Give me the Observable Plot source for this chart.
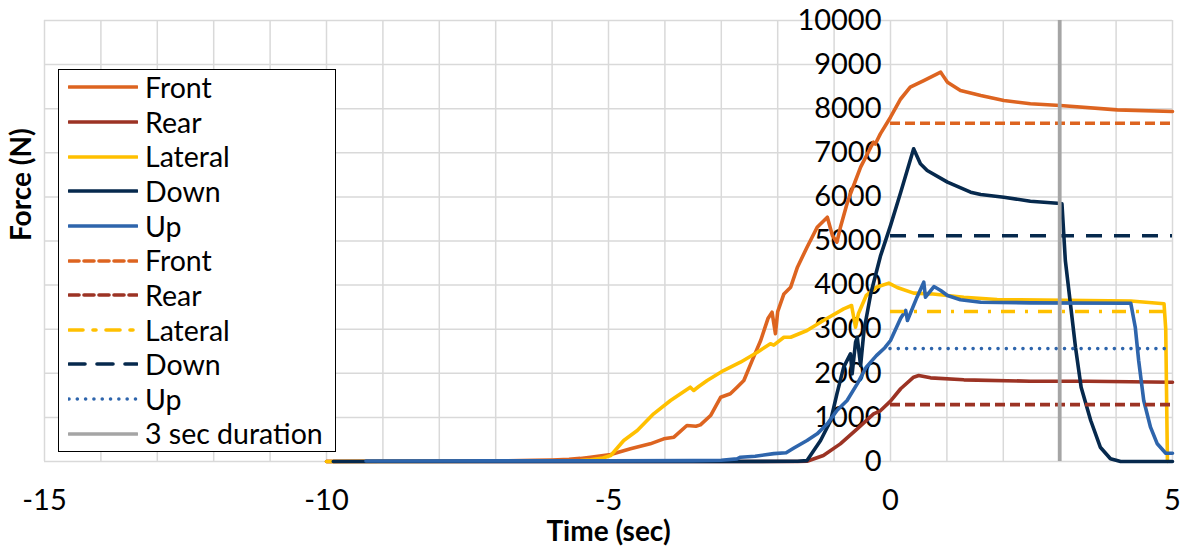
<!DOCTYPE html>
<html>
<head>
<meta charset="utf-8">
<script src="https://cdn.jsdelivr.net/npm/d3@7"></script>
<script src="https://cdn.jsdelivr.net/npm/@observablehq/plot@0.6"></script>
<style>
  html, body { margin: 0; padding: 0; background: #fff; }
  #wrap { position: relative; width: 1184px; height: 550px; font-family: Lato, "Noto Sans", sans-serif; }
  #legend { position: absolute; left: 58px; top: 69px; width: 276px; height: 381px; border: 1.5px solid #000; background: #fff; box-sizing: content-box; }
  .row { height: 34.65px; display: flex; align-items: center; padding-left: 9px; }
  .row svg { width: 70px; height: 10px; flex: none; }
  .row span { margin-left: 7px; font-size: 28.5px; color: #000; line-height: 1; white-space: nowrap; }
</style>
</head>
<body>
<div id="wrap"></div>
<script>
// ---- data ----
const xTicks = [-15, -10, -5, 0, 5];
const yTicks = [0, 1000, 2000, 3000, 4000, 5000, 6000, 7000, 8000, 9000, 10000];

const front = [[-10,0],[-9,5],[-8,10],[-7,15],[-6.3,25],[-6,35],[-5.7,50],[-5.5,70],[-5.32,98],[-4.96,159],[-4.61,287],[-4.26,400],[-4.02,514],[-3.84,552],[-3.61,816],[-3.45,800],[-3.37,830],[-3.19,1043],[-3.01,1458],[-2.84,1535],[-2.72,1685],[-2.6,1837],[-2.45,2300],[-2.3,2750],[-2.17,3250],[-2.1,3386],[-2.04,2900],[-2.0,3400],[-1.89,3800],[-1.77,3953],[-1.65,4406],[-1.48,4859],[-1.3,5313],[-1.12,5540],[-1.03,5125],[-0.95,4973],[-0.89,5300],[-0.77,5850],[-0.71,6070],[-0.62,6372],[-0.53,6674],[-0.35,7127],[-0.3,7240],[-0.27,7200],[-0.18,7430],[0,7807],[0.18,8220],[0.35,8488],[0.59,8639],[0.89,8828],[0.93,8750],[1.01,8601],[1.24,8413],[1.6,8299],[2.01,8186],[2.48,8111],[3.01,8073],[4.02,7974],[5,7937]];
const rear = [[-10,0],[-1.65,0],[-1.48,5],[-1.19,136],[-0.89,400],[-0.59,741],[-0.3,1081],[-0.18,1150],[0,1370],[0.18,1650],[0.41,1912],[0.5,1950],[0.71,1897],[1.3,1852],[2.48,1821],[3.49,1821],[5,1798]];
const lateral = [[-10,0],[-6,5],[-5.5,20],[-5.32,40],[-5.1,80],[-4.96,136],[-4.73,476],[-4.49,703],[-4.2,1081],[-3.9,1383],[-3.55,1685],[-3.49,1610],[-3.4,1700],[-3.25,1837],[-2.96,2063],[-2.66,2252],[-2.36,2479],[-2.13,2669],[-2.07,2640],[-1.89,2818],[-1.77,2818],[-1.48,2970],[-1.19,3197],[-0.83,3462],[-0.69,3537],[-0.62,3045],[-0.57,3349],[-0.43,3764],[-0.25,3953],[-0.03,4044],[0.12,3945],[0.41,3817],[0.71,3802],[1.01,3764],[1.3,3726],[1.89,3673],[2.3,3665],[3.49,3650],[4.26,3640],[4.85,3576],[4.88,3000],[4.91,0]];
const down = [[-9.88,0],[-3,0],[-1.65,5],[-1.48,20],[-1.24,476],[-1.06,930],[-0.95,1535],[-0.83,2139],[-0.71,2442],[-0.68,1988],[-0.62,2700],[-0.59,2818],[-0.53,2177],[-0.47,2970],[-0.35,3803],[-0.18,4650],[0,5350],[0.18,6100],[0.41,7090],[0.53,6750],[0.65,6599],[1.01,6334],[1.42,6107],[1.6,6054],[2.01,5993],[2.48,5902],[2.96,5857],[3.04,5843],[3.1,4558],[3.19,3576],[3.28,2592],[3.38,1685],[3.55,930],[3.72,324],[3.9,61],[4.08,0],[5,0]];
const up = [[-9.3,10],[-7,15],[-5,15],[-3.5,20],[-3.0,30],[-2.72,60],[-2.66,98],[-2.4,120],[-2.07,178],[-1.85,200],[-1.72,300],[-1.48,476],[-1.3,627],[-1.12,854],[-0.95,1156],[-0.77,1383],[-0.59,1761],[-0.43,2139],[-0.25,2400],[-0.1,2580],[0,2744],[0.18,3250],[0.27,3424],[0.3,3197],[0.47,3726],[0.59,4066],[0.62,3726],[0.77,3968],[0.89,3878],[1.01,3764],[1.24,3667],[1.6,3612],[2.48,3598],[4.26,3590],[4.34,3045],[4.4,2290],[4.49,1383],[4.61,778],[4.73,401],[4.88,188],[5,188]];

// required limits (horizontal reference lines), from t = 0 to 5
const limitNames = ["Front", "Rear", "Lateral", "Down", "Up"];
const limitValues = [7670, 1290, 3400, 5120, 2560];
const limitRange = [0, 5];
const durationT = [3];

// ---- styles ----
const colors = {Front: "#DD6420", Rear: "#9C3324", Lateral: "#FFC000", Down: "#06294D", Up: "#2E65AC", Gray: "#A5A5A5"};
const dashes = {Front: "10,5", Rear: "10,5", Lateral: "14,10,3,10", Down: "16,12", Up: "0.01,8.3"};
const caps = {Front: "butt", Rear: "butt", Lateral: "butt", Down: "butt", Up: "round"};

const series = [["Front", front], ["Rear", rear], ["Lateral", lateral], ["Down", down], ["Up", up]];
const limits = limitNames.map((n, i) => ({name: n, value: limitValues[i]}));

const lw = 3.6;
const marks = [
  Plot.gridX(d3.range(-15, 6, 1), {stroke: "#d9d9d9", strokeOpacity: 1, strokeWidth: 1.5}),
  Plot.gridY(yTicks, {stroke: "#d9d9d9", strokeOpacity: 1, strokeWidth: 1.5}),
  Plot.axisX(xTicks, {tickSize: 0, tickPadding: 28, fontSize: 29, label: null, fill: "#000", tickFormat: d => String(d)}),
  Plot.text(yTicks, {x: 0, y: d => d, text: d => String(d), textAnchor: "end", dx: -9, fontSize: 29, fill: "#000"}),
  Plot.text(["Time (sec)"], {frameAnchor: "bottom", lineAnchor: "middle", dy: 71, fontSize: 28, fontWeight: "bold", fill: "#000"}),
  Plot.text(["Force (N)"], {frameAnchor: "left", dx: -22, rotate: -90, fontSize: 28, fontWeight: "bold", fill: "#000"})
];
for (const [name, data] of series) {
  marks.push(Plot.line(data, {x: d => d[0], y: d => d[1], stroke: colors[name], strokeWidth: lw, strokeLinejoin: "round"}));
}
for (const l of limits) {
  marks.push(Plot.ruleY([l], {y: "value", x1: limitRange[0], x2: limitRange[1], stroke: colors[l.name], strokeWidth: lw, strokeDasharray: dashes[l.name], strokeLinecap: caps[l.name]}));
}
marks.push(Plot.ruleX(durationT, {x: d => d, y1: 0, y2: 10000, stroke: colors.Gray, strokeWidth: 3.8}));

const chart = Plot.plot({
  width: 1184, height: 550,
  marginLeft: 44, marginRight: 12, marginTop: 20, marginBottom: 89,
  x: {domain: [-15, 5], label: null},
  y: {domain: [0, 10000], axis: null, label: null},
  style: {fontFamily: "Lato, 'Noto Sans', sans-serif", background: "#fff", overflow: "visible"},
  marks
});
const wrap = document.getElementById("wrap");
wrap.appendChild(chart);

// ---- legend ----
const legendItems = [
  ...series.map(([n]) => ({label: n, color: colors[n], dash: null, cap: "butt"})),
  ...limitNames.map(n => ({label: n, color: colors[n], dash: dashes[n], cap: caps[n]})),
  {label: "3 sec duration", color: colors.Gray, dash: null, cap: "butt"}
];
const leg = document.createElement("div");
leg.id = "legend";
for (const it of legendItems) {
  const row = document.createElement("div");
  row.className = "row";
  row.innerHTML = `<svg viewBox="0 0 70 10"><line x1="1" y1="5" x2="69" y2="5" stroke="${it.color}" stroke-width="${lw}" ${it.dash ? `stroke-dasharray="${it.dash}"` : ""} stroke-linecap="round"/></svg><span>${it.label}</span>`;
  leg.appendChild(row);
}
wrap.appendChild(leg);
</script>
</body>
</html>
